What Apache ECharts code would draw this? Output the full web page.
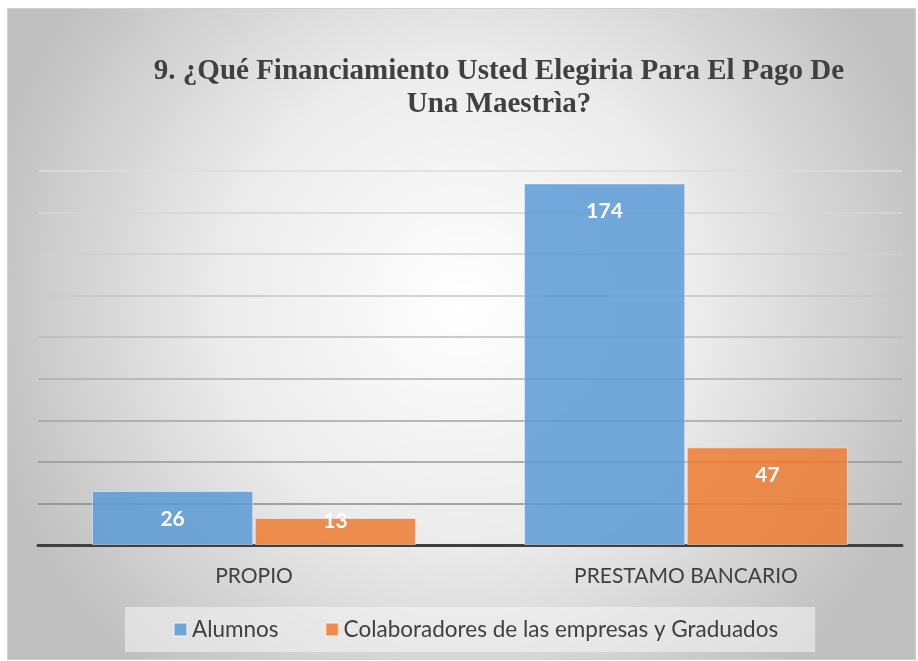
<!DOCTYPE html>
<html>
<head>
<meta charset="utf-8">
<script src="https://cdn.jsdelivr.net/npm/echarts@6/dist/echarts.min.js"></script>
<style>
  html, body { margin: 0; padding: 0; background: #fff; }
  #chart {
    position: absolute; left: 8px; top: 9px;
    width: 907px; height: 650px;
    box-shadow: 0 0 0 1px #d0d0d0;
  }
</style>
</head>
<body>
<div id="chart"></div>
<script>
const categories = ["PROPIO", "PRESTAMO BANCARIO"];
const alumnos = [26, 174];
const colaboradores = [13, 47];
const seriesNames = ["Alumnos", "Colaboradores de las empresas y Graduados"];
const titleText = "9. ¿Qué Financiamiento Usted Elegiria Para El Pago De\nUna Maestrìa?";

const chart = echarts.init(document.getElementById("chart"));

// Excel puts the label just inside the bar top; short bars push it up
function withLabel(values) {
  return values.map((v) => ({
    value: v,
    label: { position: ["50%", v >= 20 ? 28 : 3] },
  }));
}

const labelStyle = {
  show: true,
  color: "#fff",
  fontFamily: "Lato",
  fontWeight: "bold",
  fontSize: 21,
  align: "center",
  verticalAlign: "middle",
};

const option = {
  backgroundColor: new echarts.graphic.RadialGradient(0.5, 0.45, 0.75, [
    { offset: 0, color: "#ffffff" },
    { offset: 0.5, color: "#ebebeb" },
    { offset: 1, color: "#c0c0c0" },
  ]),
  title: {
    text: titleText,
    left: 486,
    top: 41,
    textAlign: "center",
    textStyle: {
      fontFamily: "Liberation Serif, Times New Roman, serif",
      fontWeight: "bold",
      fontSize: 29,
      lineHeight: 33,
      color: "#404040",
    },
  },
  legend: {
    left: 117,
    top: 598,
    padding: [11, 37, 11, 48],
    backgroundColor: "rgba(245,245,245,0.55)",
    itemWidth: 13,
    itemHeight: 13,
    itemGap: 46,
    icon: "rect",
    textStyle: {
      fontFamily: "Lato",
      fontSize: 22.5,
      color: "#404040",
    },
    data: seriesNames,
  },
  grid: {
    left: 30,
    right: 13,
    top: 162,
    bottom: 114,
  },
  xAxis: {
    type: "category",
    data: categories,
    axisTick: { show: false },
    axisLine: { lineStyle: { color: "#404040", width: 3 } },
    axisLabel: {
      margin: 21,
      fontFamily: "Lato",
      fontSize: 21,
      color: "#404040",
    },
  },
  yAxis: {
    type: "value",
    min: 0,
    max: 180,
    interval: 20,
    axisLabel: { show: false },
    axisLine: { show: false },
    axisTick: { show: false },
    splitLine: {
      lineStyle: {
        width: 1.5,
        color: [
          "#808080", "#8a8a8a", "#969696", "#a3a3a3", "#afafaf",
          "#bbbbbb", "#c6c6c6", "#cfcfcf", "#d6d6d6", "#dcdcdc",
        ],
      },
    },
  },
  series: [
    {
      name: seriesNames[0],
      type: "bar",
      data: withLabel(alumnos),
      barCategoryGap: "25%",
      barGap: "1%",
      itemStyle: {
        color: "rgba(91,155,213,0.85)",
        borderColor: "rgba(255,255,255,0.45)",
        borderWidth: 1,
      },
      label: labelStyle,
    },
    {
      name: seriesNames[1],
      type: "bar",
      data: withLabel(colaboradores),
      itemStyle: {
        color: "rgba(237,125,49,0.85)",
        borderColor: "rgba(255,255,255,0.45)",
        borderWidth: 1,
      },
      label: labelStyle,
    },
  ],
};

chart.setOption(option);
</script>
</body>
</html>
